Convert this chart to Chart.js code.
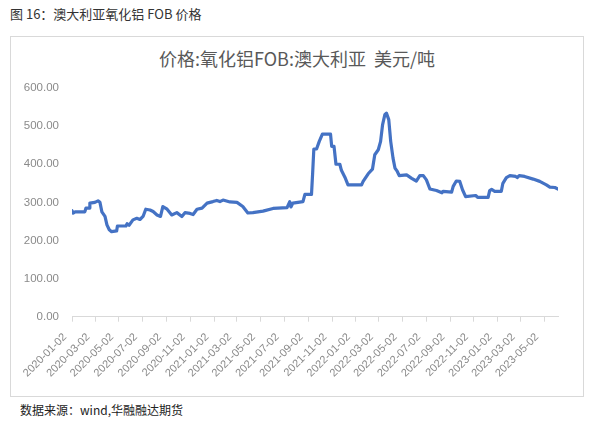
<!DOCTYPE html>
<html>
<head>
<meta charset="utf-8">
<script src="https://cdn.jsdelivr.net/npm/chart.js@4/dist/chart.umd.min.js"></script>
<style>
  html, body { margin: 0; padding: 0; background: #fff; }
  body { width: 609px; height: 432px; position: relative; overflow: hidden; font-family: "Noto Sans CJK SC", sans-serif; }
  .caption { position: absolute; left: 10px; top: 4px; font-size: 13px; color: #333; white-space: nowrap; }
  .frame { position: absolute; left: 10px; top: 36px; width: 574px; height: 361px; border: 1px solid #d9d9d9; box-sizing: border-box; }
  .title { position: absolute; left: 10px; width: 574px; top: 45px; text-align: center; font-size: 18px; color: #595959; white-space: pre; }
  #chart { position: absolute; left: 11px; top: 36px; }
  .source { position: absolute; left: 20px; top: 401px; font-size: 12px; color: #222; white-space: nowrap; }
</style>
</head>
<body>
<div class="caption">图 16：澳大利亚氧化铝 FOB 价格</div>
<div class="frame"></div>
<div class="title">价格:氧化铝FOB:澳大利亚  美元/吨</div>
<canvas id="chart" width="572" height="360"></canvas>
<div class="source">数据来源：wind,华融融达期货</div>
<script>
// 日期 (x) 与价格 (y)
var dates = [
  '2020-01-02','2020-01-05','2020-01-10','2020-02-04','2020-02-07','2020-02-15','2020-02-17','2020-03-01','2020-03-09','2020-03-14',
  '2020-03-19','2020-03-27','2020-04-01','2020-04-07','2020-04-13','2020-04-26','2020-04-28','2020-05-20','2020-05-23','2020-05-28',
  '2020-06-07','2020-06-17','2020-06-25','2020-07-03','2020-07-10','2020-07-21','2020-07-29','2020-08-08','2020-08-17','2020-08-23',
  '2020-09-03','2020-09-15','2020-09-28','2020-10-11','2020-10-19','2020-11-01','2020-11-09','2020-11-19','2020-12-02','2020-12-15',
  '2020-12-30','2021-01-09','2021-01-17','2021-01-25','2021-02-12','2021-03-02','2021-03-17','2021-03-30','2021-04-12','2021-05-08',
  '2021-06-03','2021-07-09','2021-07-16','2021-07-19','2021-07-24','2021-08-19','2021-08-24','2021-09-10','2021-09-13','2021-09-16',
  '2021-09-23','2021-09-30','2021-10-08','2021-10-29','2021-11-01','2021-11-07','2021-11-12','2021-11-22','2021-11-26','2021-12-05',
  '2021-12-13','2022-01-17','2022-01-21','2022-02-03','2022-02-14','2022-02-20','2022-03-01','2022-03-07','2022-03-12','2022-03-18',
  '2022-03-22','2022-03-28','2022-04-02','2022-04-08','2022-04-13','2022-04-19','2022-04-24','2022-05-13','2022-05-26','2022-06-07',
  '2022-06-16','2022-06-25','2022-07-03','2022-07-12','2022-07-29','2022-08-12','2022-08-15','2022-09-06','2022-09-10','2022-09-18',
  '2022-09-27','2022-10-04','2022-10-12','2022-11-07','2022-11-12','2022-12-09','2022-12-13','2022-12-18','2022-12-26','2023-01-12',
  '2023-01-16','2023-01-25','2023-02-03','2023-02-18','2023-02-22','2023-02-27','2023-03-13','2023-04-04','2023-04-21','2023-05-08',
  '2023-05-17','2023-05-30','2023-06-07'
];
var prices = [
  278,272,275,275,285,285,298,300,304,300,
  275,263,241,228,223,225,238,238,244,240,
  254,258,255,263,282,280,276,267,263,289,
  282,267,273,263,273,271,268,282,285,298,
  302,305,302,306,301,300,289,272,273,277,
  284,286,302,288,298,302,321,321,378,440,
  440,460,479,479,447,447,400,400,384,366,
  346,346,355,375,387,425,438,460,503,530,
  534,517,460,416,390,381,370,372,363,356,
  370,370,359,335,331,325,329,327,342,356,
  355,333,315,318,313,313,331,334,329,329,
  350,365,370,368,365,370,368,361,355,346,
  340,339,335
];
// x 轴刻度标签（每两个月）
var tickDates = [
  '2020-01-02','2020-03-02','2020-05-02','2020-07-02','2020-09-02','2020-11-02',
  '2021-01-02','2021-03-02','2021-05-02','2021-07-02','2021-09-02','2021-11-02',
  '2022-01-02','2022-03-02','2022-05-02','2022-07-02','2022-09-02','2022-11-02',
  '2023-01-02','2023-03-02','2023-05-02'
];
var xEnd = '2023-06-07';
var yTicks = [0, 100, 200, 300, 400, 500, 600];

function dayOf(s) {
  var p = s.split('-');
  return (Date.UTC(+p[0], +p[1] - 1, +p[2]) - Date.UTC(2020, 0, 2)) / 86400000;
}

var GRAY = '#8a8a8a', AXIS = '#d9d9d9';
var points = dates.map(function (d, i) { return { x: dayOf(d), y: prices[i] }; });

new Chart(document.getElementById('chart').getContext('2d'), {
  type: 'line',
  data: {
    datasets: [{
      data: points, borderColor: '#4472C4', borderWidth: 3.2,
      pointRadius: 0, tension: 0, fill: false, borderJoinStyle: 'round', borderCapStyle: 'round'
    }]
  },
  options: {
    responsive: false, animation: false, devicePixelRatio: 1,
    layout: { padding: { top: 52, right: 25, left: 0, bottom: 0 } },
    plugins: { legend: { display: false }, title: { display: false }, tooltip: { enabled: false } },
    scales: {
      x: {
        type: 'linear', min: 0, max: dayOf(xEnd),
        afterBuildTicks: function (s) { s.ticks = tickDates.map(function (d) { return { value: dayOf(d) }; }); },
        afterFit: function (s) { s.height = 79.3; },
        border: { display: true, color: AXIS, width: 1 },
        grid: { drawOnChartArea: false, drawTicks: true, tickLength: 5, color: AXIS },
        ticks: {
          autoSkip: false, minRotation: 45, maxRotation: 45, padding: 9, labelOffset: -7,
          color: GRAY, font: { family: 'Liberation Sans', size: 11 },
          callback: function (v, i) { return tickDates[i]; }
        }
      },
      y: {
        min: 0, max: 600,
        afterBuildTicks: function (s) { s.ticks = yTicks.map(function (v) { return { value: v }; }); },
        afterFit: function (s) { s.width = 61; },
        border: { display: false },
        grid: { display: false, drawTicks: false },
        ticks: {
          padding: 13, color: GRAY, font: { family: 'Liberation Sans', size: 11.5 },
          callback: function (v) { return v.toFixed(2); }
        }
      }
    }
  }
});
</script>
</body>
</html>
